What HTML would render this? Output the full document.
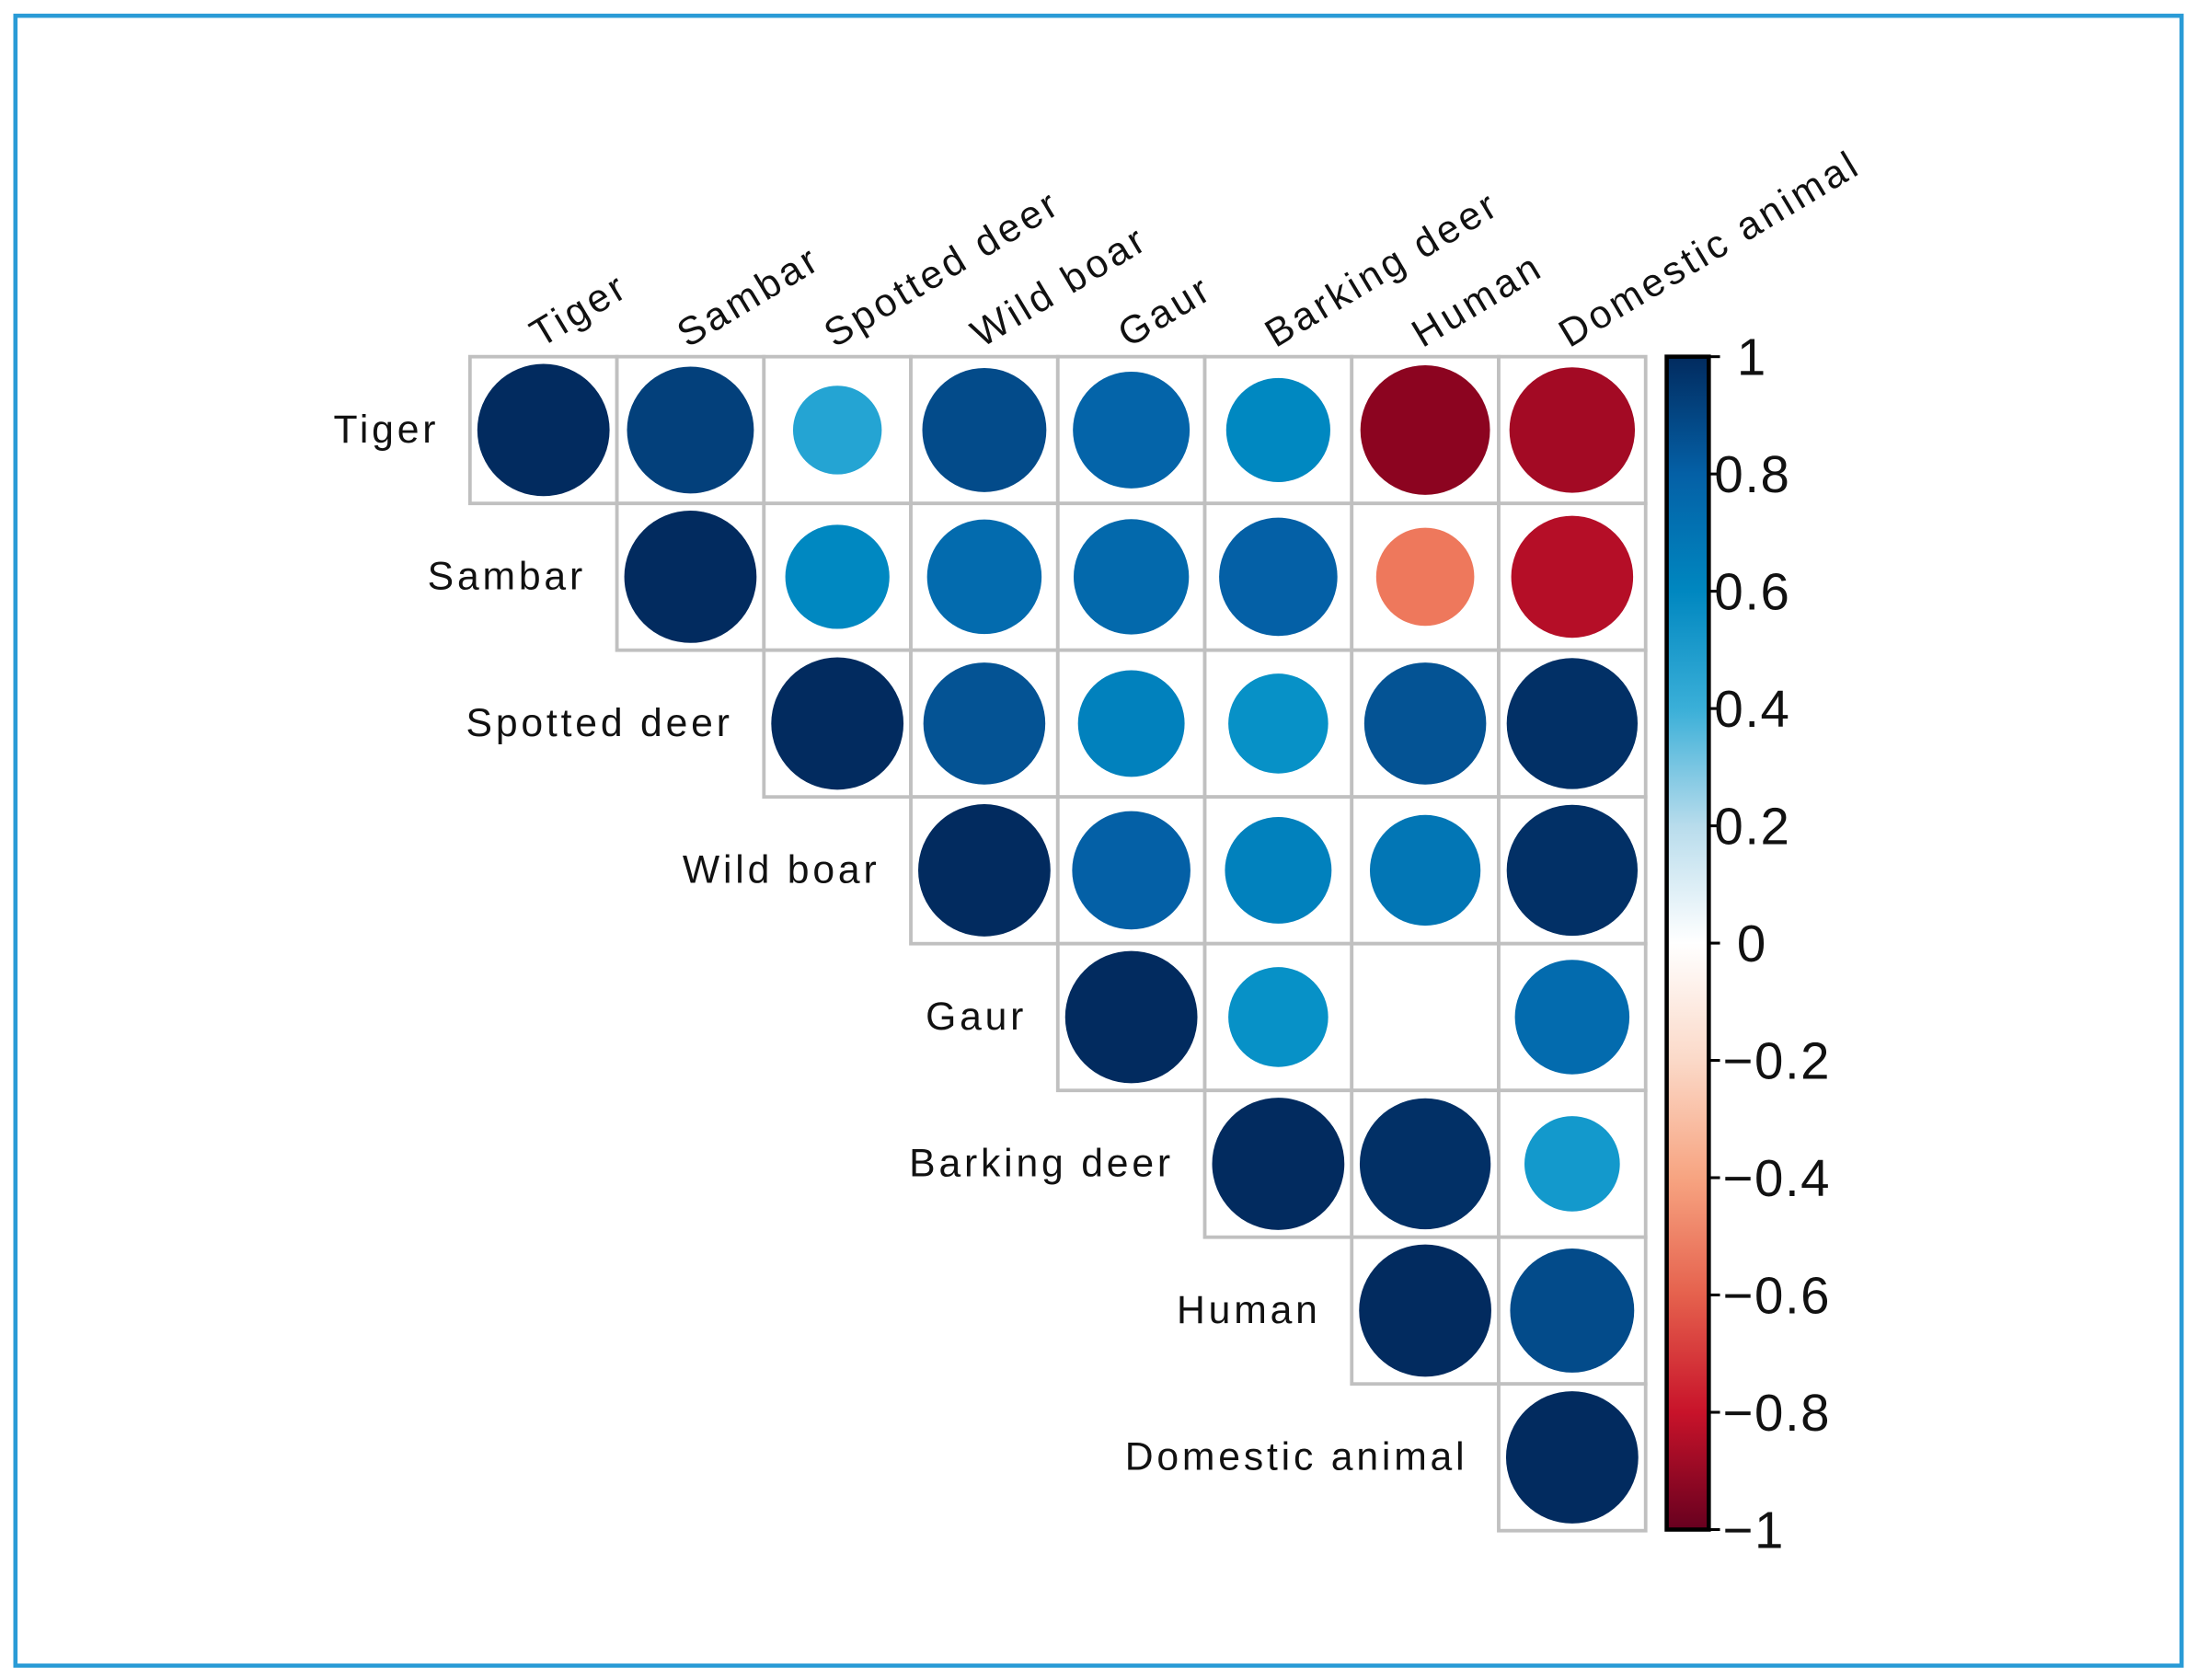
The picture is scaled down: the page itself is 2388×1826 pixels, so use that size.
<!DOCTYPE html>
<html><head><meta charset="utf-8"><style>
html,body{margin:0;padding:0;background:#fff}
svg{display:block}
text{font-family:"Liberation Sans",Arial,sans-serif;fill:#111}
</style></head><body>
<svg id="chart" width="2388" height="1826" viewBox="0 0 1566 1197" xmlns="http://www.w3.org/2000/svg">
<rect x="11" y="11" width="1544" height="1176" fill="#fff" stroke="#2a9bd6" stroke-width="3"/>
<g id="cells"></g>
<g id="labels"></g>
<defs><linearGradient id="cbg" x1="0" y1="1" x2="0" y2="0">
<stop offset="0" stop-color="#67001f"/><stop offset="0.1" stop-color="#c8132a"/><stop offset="0.2" stop-color="#e5614d"/><stop offset="0.3" stop-color="#f7a481"/><stop offset="0.4" stop-color="#fbd9c8"/><stop offset="0.5" stop-color="#ffffff"/><stop offset="0.6" stop-color="#b8dcec"/><stop offset="0.7" stop-color="#3aafd8"/><stop offset="0.8" stop-color="#0087c0"/><stop offset="0.9" stop-color="#0460a6"/><stop offset="1" stop-color="#022b5f"/>
</linearGradient></defs>
<rect x="1188" y="254" width="30" height="836" fill="url(#cbg)" stroke="#000" stroke-width="3"/>
<g id="cbticks"></g>
</svg>
<script>
const names = ["Tiger","Sambar","Spotted deer","Wild boar","Gaur","Barking deer","Human","Domestic animal"];
const rowTiger = [1, 0.92, 0.45, 0.88, 0.78, 0.62, -0.96, -0.9];
const rowSambar = [1, 0.62, 0.75, 0.76, 0.8, -0.55, -0.85];
const rowSpotted = [1, 0.85, 0.65, 0.57, 0.85, 0.98];
const rowWildBoar = [1, 0.8, 0.65, 0.7, 0.98];
const rowGaur = [1, 0.57, 0.0, 0.75];
const rowBarking = [1, 0.98, 0.52];
const rowHuman = [1, 0.88];
const rowDomestic = [1];
const cbTicks = [1, 0.8, 0.6, 0.4, 0.2, 0, -0.2, -0.4, -0.6, -0.8, -1];
const cbTickLabels = ["1","0.8","0.6","0.4","0.2","0","\u22120.2","\u22120.4","\u22120.6","\u22120.8","\u22121"];

const rows = [rowTiger,rowSambar,rowSpotted,rowWildBoar,rowGaur,rowBarking,rowHuman,rowDomestic];
const NS="http://www.w3.org/2000/svg";
const X0=335,Y0=254,CW=104.75,CH=104.6;
const xCell=j=>X0+j*CW, yCell=i=>Y0+i*CH;
const stops=[[-1,[125,0,30]],[-0.8,[200,19,42]],[-0.6,[235,105,80]],[-0.4,[247,164,129]],[-0.2,[251,217,200]],[0,[255,255,255]],[0.2,[184,220,236]],[0.4,[48,172,216]],[0.6,[0,140,196]],[0.8,[4,96,166]],[1,[2,43,95]]];
function color(v){for(let k=0;k<stops.length-1;k++){const a=stops[k],b=stops[k+1];if(v<=b[0]){const t=(v-a[0])/(b[0]-a[0]);const c=a[1].map((x,m)=>Math.round(x+(b[1][m]-x)*t));return `rgb(${c})`;}}return "rgb(2,43,95)";}
const cells=document.getElementById('cells');
rows.forEach((row,i)=>{row.forEach((v,k)=>{const j=i+k;
 const r=document.createElementNS(NS,'rect');
 
 
 r.setAttribute('x',xCell(j));r.setAttribute('y',yCell(i));r.setAttribute('width',CW);r.setAttribute('height',CH);
 r.setAttribute('fill','#fff');r.setAttribute('stroke','#c0c0c0');r.setAttribute('stroke-width','2.5');cells.appendChild(r);
});});
rows.forEach((row,i)=>{row.forEach((v,k)=>{const j=i+k;
 if(Math.abs(v)<0.02)return;
 const c=document.createElementNS(NS,'circle');
 
 
 c.setAttribute('cx',xCell(j)+CW/2);c.setAttribute('cy',yCell(i)+CH/2);
 c.setAttribute('r',0.45*CW*Math.sqrt(Math.abs(v)));c.setAttribute('fill',color(v));cells.appendChild(c);
});});
const labels=document.getElementById('labels');
names.forEach((n,i)=>{
 const t=document.createElementNS(NS,'text');
 
 
 t.setAttribute('x',xCell(i)-22);t.setAttribute('y',yCell(i)+CH/2+9);t.setAttribute('text-anchor','end');t.setAttribute('font-size','28');t.setAttribute('letter-spacing','2.5');t.textContent=n;labels.appendChild(t);
 const c=document.createElementNS(NS,'text');
 
 
 const cx=xCell(i)+CW/2-2,cy=Y0-6;
 c.setAttribute('x',cx);c.setAttribute('y',cy);c.setAttribute('font-size','28');c.setAttribute('letter-spacing','2.5');c.setAttribute('transform',`rotate(-31 ${cx} ${cy})`);c.textContent=n;labels.appendChild(c);
});
const cb=document.getElementById('cbticks');
const yCb=v=>254+(1-v)/2*836;
cbTicks.forEach((v,k)=>{
 const l=document.createElementNS(NS,'line');
 
 
 l.setAttribute('x1',1218);l.setAttribute('x2',1226);l.setAttribute('y1',yCb(v));l.setAttribute('y2',yCb(v));l.setAttribute('stroke','#000');l.setAttribute('stroke-width','2');cb.appendChild(l);
 const t=document.createElementNS(NS,'text');
 
 
 const x = v===1||v===0 ? 1238 : (v>0?1222:1228);
 t.setAttribute('x',x);t.setAttribute('y',yCb(v)+13);t.setAttribute('font-size','37');t.setAttribute('letter-spacing','1');t.textContent=cbTickLabels[k];cb.appendChild(t);
});
</script>
</body></html>
